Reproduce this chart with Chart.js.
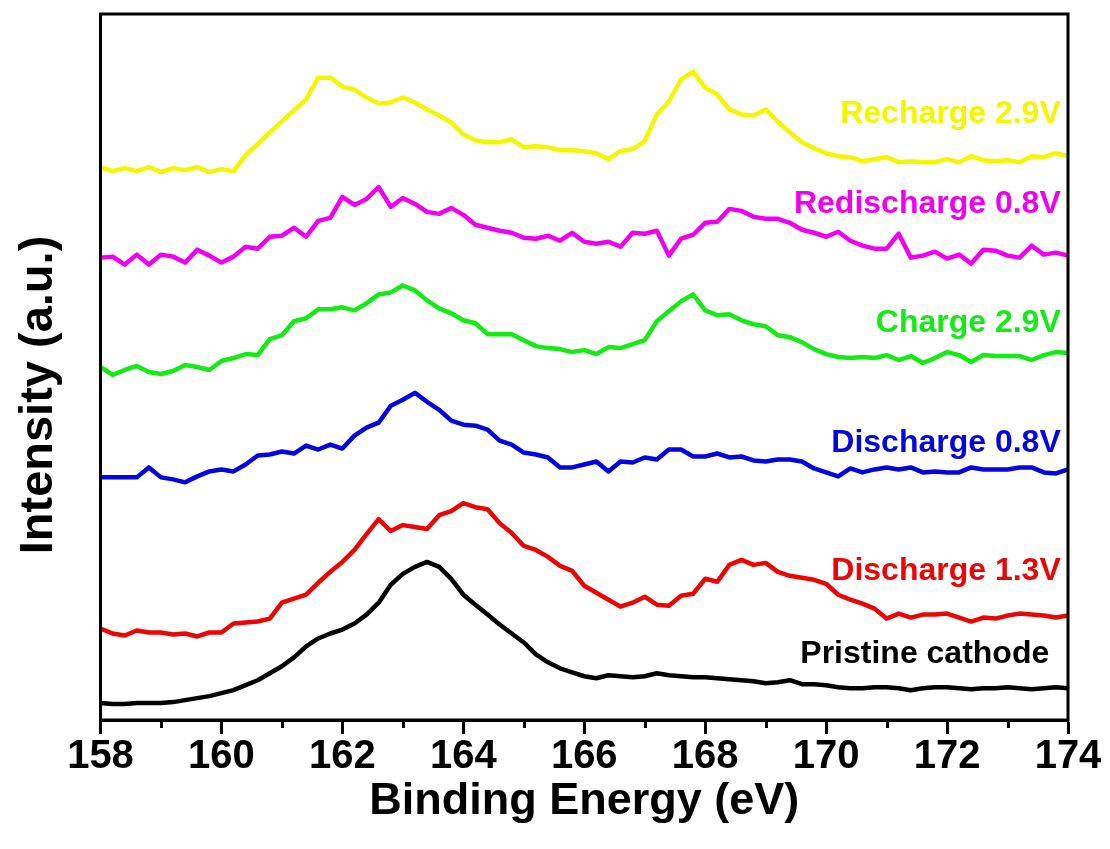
<!DOCTYPE html>
<html>
<head>
<meta charset="utf-8">
<script src="https://cdn.jsdelivr.net/npm/chart.js@4/dist/chart.umd.min.js"></script>
<style>
  html, body { margin: 0; padding: 0; background: #ffffff; }
  #wrap { position: relative; width: 1110px; height: 849px; }
</style>
</head>
<body>
<div id="wrap"><canvas id="c"></canvas></div>
<script>
// Binding energy grid (eV)
const energies = [
  158,158.2,158.4,158.6,158.8,159,159.2,159.4,159.6,159.8,
  160,160.2,160.4,160.6,160.8,161,161.2,161.4,161.6,161.8,
  162,162.2,162.4,162.6,162.8,163,163.2,163.4,163.6,163.8,
  164,164.2,164.4,164.6,164.8,165,165.2,165.4,165.6,165.8,
  166,166.2,166.4,166.6,166.8,167,167.2,167.4,167.6,167.8,
  168,168.2,168.4,168.6,168.8,169,169.2,169.4,169.6,169.8,
  170,170.2,170.4,170.6,170.8,171,171.2,171.4,171.6,171.8,
  172,172.2,172.4,172.6,172.8,173,173.2,173.4,173.6,173.8,
  174
];

const xTicks = [158,160,162,164,166,168,170,172,174];

const seriesNames = ["Recharge 2.9V","Redischarge 0.8V","Charge 2.9V","Discharge 0.8V","Discharge 1.3V","Pristine cathode"];

// Intensities (a.u., offset as in the figure)
const recharge29 = [
  556,552,555,552,556,551,555,553,556,551,
  554,552,568,579,591,602,613,624,646,646,
  637,634,626,620,621,626,621,614,608,601,
  589,583,581,581,584,576,577,576,573,573,
  572,570,564,572,574,582,609,622,644,652,
  636,629,614,609,608,614,602,591,581,575,
  570,567,566,562,564,566,561,562,561,561,
  564,561,567,563,562,563,561,567,566,570,567
];
const redischarge08 = [
  465,466,458,468,458,468,466,460,473,467,
  460,466,476,474,486,487,495,486,502,505,
  526,518,524,536,516,525,519,511,509,515,
  508,498,495,492,490,485,484,487,482,490,
  481,479,481,476,490,489,492,467,484,488,
  500,501,514,512,506,504,504,500,493,490,
  486,491,482,477,474,474,489,465,467,471,
  464,468,459,473,472,467,465,477,468,470,467
];
const charge29 = [
  355,347,352,356,350,348,351,357,355,352,
  361,364,368,367,383,387,401,404,413,413,
  415,412,419,428,430,437,432,422,414,409,
  402,399,388,388,388,382,376,374,373,370,
  372,368,375,374,378,382,401,411,421,428,
  412,407,408,402,398,396,387,385,380,373,
  368,365,364,365,364,367,362,366,359,364,
  370,367,360,367,366,366,366,362,367,370,369
];
const discharge08 = [
  244,244,244,244,254,244,242,239,245,250,
  252,250,257,266,267,270,268,276,272,277,
  273,286,294,299,316,322,329,320,312,301,
  297,296,292,281,277,269,267,264,254,254,
  257,260,250,260,259,264,262,272,272,265,
  265,268,264,265,261,260,262,262,260,253,
  249,245,253,249,252,254,252,254,249,250,
  249,249,254,252,252,252,254,254,249,248,252
];
const discharge13 = [
  92,87,85,90,88,88,86,87,84,88,
  88,97,98,99,102,118,122,126,138,149,
  159,171,187,202,190,196,194,192,206,210,
  218,214,212,198,188,175,171,164,155,150,
  135,128,121,114,118,124,116,115,125,127,
  142,139,156,161,156,158,149,145,143,141,
  137,126,121,117,112,102,107,103,106,106,
  107,103,99,103,102,105,107,106,105,103,105
];
const pristine = [
  17,16,16,17,17,17,18,20,22,24,
  27,30,35,40,47,54,63,74,82,87,
  91,97,106,118,136,147,154,159,154,142,
  126,116,106,96,87,78,66,58,52,48,
  44,42,45,44,43,44,47,45,44,43,
  43,42,41,40,39,37,38,40,36,36,
  35,33,32,32,33,33,32,30,32,33,
  33,32,31,32,32,33,32,31,32,33,32
];

const seriesValues = [recharge29, redischarge08, charge29, discharge08, discharge13, pristine];
const seriesColors = ["#F5F500", "#F000F0", "#14EB14", "#0505E0", "#EB0505", "#000000"];

// Label anchors in data coordinates (right edge energy, baseline intensity)
const labelAnchors = [
  [173.88, 600], [173.88, 510], [173.88, 390], [173.88, 270], [173.88, 141], [173.69, 57]
];

const FONT = "'Liberation Sans', Arial, sans-serif";

const datasets = seriesValues.map((vals, i) => ({
  label: seriesNames[i],
  data: energies.map((e, j) => ({ x: e, y: vals[j] })),
  borderColor: seriesColors[i],
  backgroundColor: seriesColors[i],
  borderWidth: 4.5,
  pointRadius: 0,
  tension: 0,
  borderJoinStyle: 'round',
  borderCapStyle: 'round',
  fill: false
}));

const framePlugin = {
  id: 'frame',
  afterDatasetsDraw(chart) {
    const { ctx, chartArea: ca, scales } = chart;
    const xs = scales.x, ys = scales.y;
    ctx.save();
    ctx.strokeStyle = '#000';
    ctx.lineWidth = 3;
    ctx.lineCap = 'square';
    ctx.beginPath();
    ctx.moveTo(ca.left, ca.top);
    ctx.lineTo(ca.right, ca.top);
    ctx.lineTo(ca.right, ca.bottom);
    ctx.moveTo(ca.left, ca.top);
    ctx.lineTo(ca.left, ca.bottom);
    ctx.lineTo(ca.right, ca.bottom);
    ctx.stroke();
    // minor ticks
    ctx.lineCap = 'butt';
    for (let v = xs.min + 1; v < xs.max; v += 2) {
      const px = Math.round(xs.getPixelForValue(v)) + 0.5;
      ctx.beginPath();
      ctx.moveTo(px, ca.bottom);
      ctx.lineTo(px, ca.bottom + 8);
      ctx.stroke();
    }
    // series labels
    ctx.font = 'bold 32px ' + FONT;
    ctx.textAlign = 'right';
    ctx.textBaseline = 'alphabetic';
    seriesNames.forEach((name, i) => {
      const [e, v] = labelAnchors[i];
      ctx.fillStyle = seriesColors[i];
      ctx.fillText(name, xs.getPixelForValue(e), ys.getPixelForValue(v));
    });
    // y-axis title
    ctx.fillStyle = '#000';
    ctx.font = 'bold 47px ' + FONT;
    ctx.textAlign = 'center';
    ctx.textBaseline = 'middle';
    ctx.translate(39, (ca.top + ca.bottom) / 2 + 28);
    ctx.rotate(-Math.PI / 2);
    ctx.fillText('Intensity (a.u.)', 0, 0);
    ctx.restore();
  }
};

new Chart(document.getElementById('c'), {
  type: 'line',
  data: { datasets },
  plugins: [framePlugin],
  options: {
    responsive: true,
    maintainAspectRatio: false,
    animation: false,
    layout: { padding: { top: 14, right: 42, bottom: 0, left: 0 } },
    plugins: { legend: { display: false }, tooltip: { enabled: false } },
    scales: {
      x: {
        type: 'linear',
        min: 158,
        max: 174,
        afterBuildTicks(scale) { scale.ticks = xTicks.map(v => ({ value: v })); },
        grid: { display: true, drawOnChartArea: false, drawTicks: true, tickLength: 14, tickWidth: 3, tickColor: '#000', color: '#000' },
        border: { display: true, color: '#000', width: 3 },
        ticks: { color: '#000', padding: 3, maxRotation: 0, autoSkip: false,
                 font: { family: FONT, size: 40, weight: 'bold', lineHeight: 1.0 } },
        title: { display: true, text: 'Binding Energy (eV)', color: '#000',
                 font: { family: FONT, size: 45, weight: 'bold', lineHeight: 1.0 },
                 padding: { top: -1, bottom: 25 } }
      },
      y: {
        type: 'linear',
        min: 0,
        max: 710,
        afterFit(scale) { scale.width = 100.5; },
        grid: { display: false, drawTicks: false },
        border: { display: true, color: '#000', width: 3 },
        ticks: { display: false },
        title: { display: false }
      }
    }
  }
});
</script>
</body>
</html>
